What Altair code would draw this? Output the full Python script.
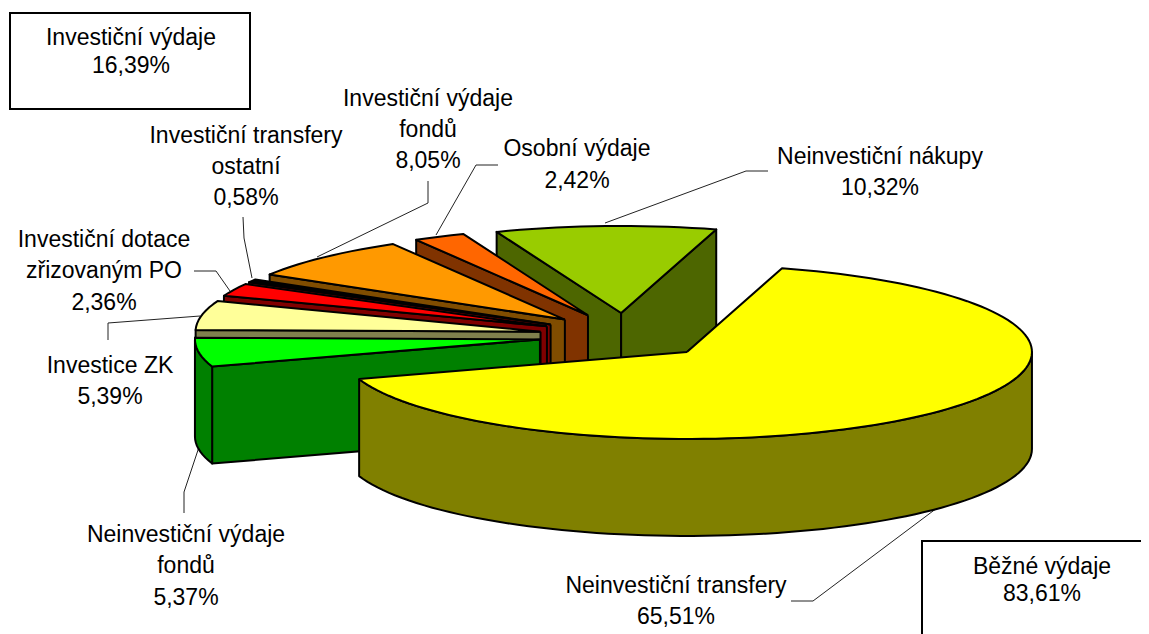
import math
import altair as alt
import pandas as pd

# --- chart values ---
slice_names = ["Neinvestiční transfery", "Neinvestiční výdaje fondů", "Investice ZK",
               "Investiční dotace zřizovaným PO", "Investiční transfery ostatní",
               "Investiční výdaje fondů", "Osobní výdaje", "Neinvestiční nákupy"]
slice_values = [65.51, 5.37, 5.39, 2.36, 0.58, 8.05, 2.42, 10.32]
group_names = ["Investiční výdaje", "Běžné výdaje"]
group_values = ["16,39%", "83,61%"]

# --- styles and layout (reference pixels) ---
top_colors = ["#FFFF00", "#00FF00", "#FFFF99", "#FF0000", "#000000", "#FF9900", "#FF6600", "#99CC00"]
side_colors = ["#808000", "#008000", "#80804D", "#800000", "#800000", "#804D00", "#803300", "#4D6600"]
CX, CY, RX, RY, EX, EY, DEPTH, START = 625, 336, 345, 87, 86, 23, 97, 74
W, H = 1133, 626
FONT, FS = "Liberation Sans", 23

label_lines = [
    ["Neinvestiční transfery", "65,51%"], ["Neinvestiční výdaje", "fondů", "5,37%"],
    ["Investice ZK", "5,39%"], ["Investiční dotace", "zřizovaným PO", "2,36%"],
    ["Investiční transfery", "ostatní", "0,58%"], ["Investiční výdaje", "fondů", "8,05%"],
    ["Osobní výdaje", "2,42%"], ["Neinvestiční nákupy", "10,32%"],
]
label_pos = [(676, [586, 617]), (186, [535, 566, 598]), (110, [366, 397]), (104, [240, 271, 303]),
             (246, [136, 167, 198]), (428, [99, 130, 161]), (577, [149, 181]), (880, [157, 188])]
box_pos = [(10, 250, 13, 109, 131, [38, 66]), (922, 1170, 541, 660, 1042, [567, 594])]
leaders = [
    [(791, 601), (813, 601), (945, 502)],
    [(184, 513), (184, 492), (199, 447)],
    [(108, 340), (108, 323), (200, 316)],
    [(194, 271), (216, 271), (230, 291)],
    [(243, 217), (244, 238), (252, 278)],
    [(428, 181), (428, 203), (317, 257)],
    [(498, 165), (476, 165), (436, 235)],
    [(768, 171), (746, 171), (605, 223)],
]

# --- pie geometry derived from the values ---
polys = []
def add(points, fill):
    pid = len(polys)
    polys.append((pid, points + points[:1], fill))

def rim(ax, ay, t, dz=0):
    r = math.radians(t)
    return (ax + RX * math.cos(r), ay - RY * math.sin(r) + dz)

spans, t = [], START
for v in slice_values:
    spans.append((t, t - v * 3.6))   # clockwise
    t -= v * 3.6

for i in range(len(slice_values) - 1, -1, -1):   # back slices first
    hi, lo = spans[i]
    mid = math.radians((hi + lo) / 2)
    ax, ay = CX + EX * math.cos(mid), CY - EY * math.sin(mid)
    for edge, vis in ((hi, math.cos(math.radians(hi)) < 0), (lo, math.cos(math.radians(lo)) > 0)):
        if vis:
            p = rim(ax, ay, edge)
            add([(ax, ay), p, (p[0], p[1] + DEPTH), (ax, ay + DEPTH)], side_colors[i])
    # outer wall: only the part of the rim facing the viewer
    for k in (-1, 0, 1):
        a2, b2 = max(lo, -180 + 360 * k), min(hi, 360 * k)
        if a2 < b2:
            n = max(2, int((b2 - a2) / 2))
            ts = [a2 + (b2 - a2) * j / n for j in range(n + 1)]
            front = [rim(ax, ay, s) for s in ts]
            back = [rim(ax, ay, s, DEPTH) for s in reversed(ts)]
            add(front + back, side_colors[i])
    n = max(2, int((hi - lo) / 2))
    arc = [rim(ax, ay, hi - (hi - lo) * j / n) for j in range(n + 1)]
    add([(ax, ay)] + arc, top_colors[i])

rows = []
for pid, pts, fill in polys:
    for seq, (x, y) in enumerate(pts):
        rows.append({"pid": pid, "seq": seq, "x": x, "y": y, "fill": fill})
poly_df = pd.DataFrame(rows)

xs = alt.Scale(domain=[8, 8 + W], range=[0, W])
ys = alt.Scale(domain=[8, 8 + H], range=[0, H])
X = lambda f="x": alt.X(f, type="quantitative", scale=xs, axis=None)
Y = lambda f="y": alt.Y(f, type="quantitative", scale=ys, axis=None)

pie = alt.Chart(poly_df).mark_line(stroke="black", strokeWidth=2, strokeJoin="round", clip=False).encode(
    x=X(), y=Y(), order="seq:Q", detail="pid:N",
    fill=alt.Fill("fill:N", scale=None),
)

lead_df = pd.DataFrame([{"pid": i, "seq": j, "x": p[0], "y": p[1]}
                        for i, l in enumerate(leaders) for j, p in enumerate(l)])
lead = alt.Chart(lead_df).mark_line(stroke="#222222", strokeWidth=1).encode(
    x=X(), y=Y(), order="seq:Q", detail="pid:N")

box_df = pd.DataFrame([{"x": b[0], "x2": b[1], "y": b[2], "y2": b[3], "name": n}
                       for b, n in zip(box_pos, group_names)])
boxes = alt.Chart(box_df).mark_rect(fill="white", stroke="black", strokeWidth=2).encode(
    x=X(), x2="x2:Q", y=Y(), y2="y2:Q")

txt_rows = []
for lines, (cx, yy) in zip(label_lines, label_pos):
    for s, y in zip(lines, yy):
        txt_rows.append({"x": cx, "y": y, "t": s})
for n, v, b in zip(group_names, group_values, box_pos):
    txt_rows.append({"x": b[4], "y": b[5][0], "t": n})
    txt_rows.append({"x": b[4], "y": b[5][1], "t": v})
text = alt.Chart(pd.DataFrame(txt_rows)).mark_text(
    font=FONT, fontSize=FS, color="black", align="center", baseline="middle"
).encode(x=X(), y=Y(), text="t:N")

chart = alt.layer(lead, pie, boxes, text).properties(
    width=W, height=H, padding=0, autosize=alt.AutoSizeParams(type="none")
).configure_view(stroke=None)
chart.save("out.html", embed_options={"renderer": "svg", "actions": False})
